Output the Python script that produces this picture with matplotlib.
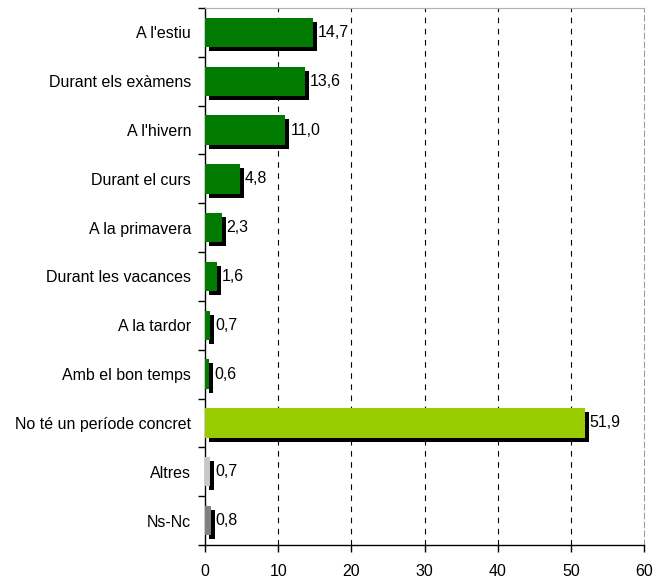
import numpy as np
import matplotlib.pyplot as plt
from matplotlib.transforms import ScaledTranslation

plt.rcParams['font.family'] = ['Liberation Sans', 'DejaVu Sans']

categories = ["A l'estiu", "Durant els exàmens", "A l'hivern", "Durant el curs",
              "A la primavera", "Durant les vacances", "A la tardor",
              "Amb el bon temps", "No té un període concret", "Altres", "Ns-Nc"]
values = [14.7, 13.6, 11.0, 4.8, 2.3, 1.6, 0.7, 0.6, 51.9, 0.7, 0.8]
colors = ["#007A00"] * 8 + ["#99CC00", "#C8C8C8", "#808080"]
xticks = [0, 10, 20, 30, 40, 50, 60]

fs = 11.5

fig = plt.figure(figsize=(6.53, 5.81), dpi=100)
ax = fig.add_axes([205/653, 36/581, 439/653, 537/581])

y = np.arange(len(categories))
h = 0.6

# shadow bars, shifted right/down
shadow = ax.transData + ScaledTranslation(0.04, -0.04, fig.dpi_scale_trans)
ax.barh(y, values, height=h, color="black", transform=shadow, zorder=2)
ax.barh(y, values, height=h, color=colors, zorder=3)

for yi, v in zip(y, values):
    ax.annotate(("%.1f" % v).replace(".", ","), (v, yi), xytext=(3.5, 0),
                textcoords="offset points", va="center", ha="left",
                fontsize=fs, zorder=4)

ax.set_xlim(0, 60)
ax.set_ylim(len(categories) - 0.5, -0.5)
ax.set_xticks(xticks)
ax.set_xticklabels([str(t) for t in xticks], fontsize=fs)
ax.set_yticks(y)
ax.set_yticklabels(categories, fontsize=fs)
ax.tick_params(axis="y", which="major", length=0, pad=10)
ax.set_yticks(np.arange(-0.5, len(categories)), minor=True)
ax.tick_params(axis="y", which="minor", length=5, width=1, direction="out")
ax.tick_params(axis="x", length=5, width=1, direction="out", pad=9)

for xv in xticks[1:-1]:
    ax.axvline(xv, color="black", ls=(0, (5, 5)), lw=0.8, zorder=1)

ax.spines["top"].set_color("#B0B0B0")
ax.spines["right"].set_color("#A0A0A0")
ax.spines["right"].set_linestyle((0, (5, 3)))
ax.spines["left"].set_linewidth(1)
ax.spines["bottom"].set_linewidth(1)

fig.savefig("out.png", dpi=100)
